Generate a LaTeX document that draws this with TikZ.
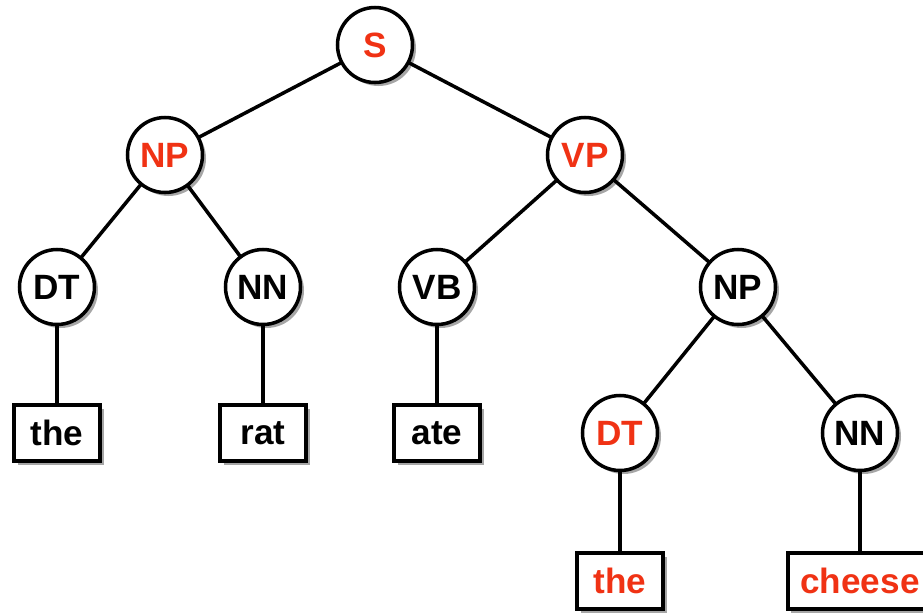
\documentclass[tikz,border=0pt]{standalone}
\usepackage{fontspec}
\setmainfont{Liberation Sans}
\usetikzlibrary{shadows}
\definecolor{tagred}{RGB}{240,50,20}
\begin{document}
\begin{tikzpicture}[
    tag/.style={circle, draw, line width=2pt, fill=white, minimum size=1.5cm, inner sep=0pt,
                font=\fontsize{20}{24}\selectfont\bfseries,
                drop shadow={shadow xshift=0.07cm, shadow yshift=-0.07cm, fill=black, opacity=0.35}},
    word/.style={rectangle, draw, line width=2pt, fill=white, minimum width=1.72cm, minimum height=1.12cm,
                 inner xsep=0.25cm, font=\fontsize{20}{24}\selectfont\bfseries,
                 drop shadow={shadow xshift=0.07cm, shadow yshift=-0.07cm, fill=black, opacity=0.35}},
    hot/.style={text=tagred},
    branch/.style={line width=2pt}
]
    \useasboundingbox (0,0) rectangle (18.46,-12.26);

    % edges first so the nodes sit on top
    \coordinate (s) at (7.5,-0.9);
    \coordinate (np) at (3.3,-3.1);
    \coordinate (vp) at (11.7,-3.1);
    \coordinate (dt) at (1.14,-5.74);
    \coordinate (nn) at (5.26,-5.74);
    \coordinate (vb) at (8.74,-5.74);
    \coordinate (np2) at (14.76,-5.74);
    \coordinate (dt2) at (12.4,-8.66);
    \coordinate (nn2) at (17.2,-8.66);
    \coordinate (w1) at (1.14,-8.66);
    \coordinate (w2) at (5.26,-8.66);
    \coordinate (w3) at (8.74,-8.66);
    \coordinate (w4) at (12.4,-11.62);
    \coordinate (w5) at (17.2,-11.62);

    \draw[branch] (s) -- (np);
    \draw[branch] (s) -- (vp);
    \draw[branch] (np) -- (dt);
    \draw[branch] (np) -- (nn);
    \draw[branch] (vp) -- (vb);
    \draw[branch] (vp) -- (np2);
    \draw[branch] (np2) -- (dt2);
    \draw[branch] (np2) -- (nn2);
    \draw[branch] (dt) -- (w1);
    \draw[branch] (nn) -- (w2);
    \draw[branch] (vb) -- (w3);
    \draw[branch] (dt2) -- (w4);
    \draw[branch] (nn2) -- (w5);

    % tree nodes
    \node[tag, hot] (S) at (s) {S};
    \node[tag, hot] (NP) at (np) {NP};
    \node[tag, hot] (VP) at (vp) {VP};
    \node[tag] (DT) at (dt) {DT};
    \node[tag] (NN) at (nn) {NN};
    \node[tag] (VB) at (vb) {VB};
    \node[tag] (NPb) at (np2) {NP};
    \node[tag, hot] (DTb) at (dt2) {DT};
    \node[tag] (NNb) at (nn2) {NN};

    % leaves
    \node[word] (the) at (w1) {the};
    \node[word] (rat) at (w2) {rat};
    \node[word] (ate) at (w3) {ate};
    \node[word, hot] (theb) at (w4) {the};
    \node[word, hot] (cheese) at (w5) {cheese};
\end{tikzpicture}
\end{document}
